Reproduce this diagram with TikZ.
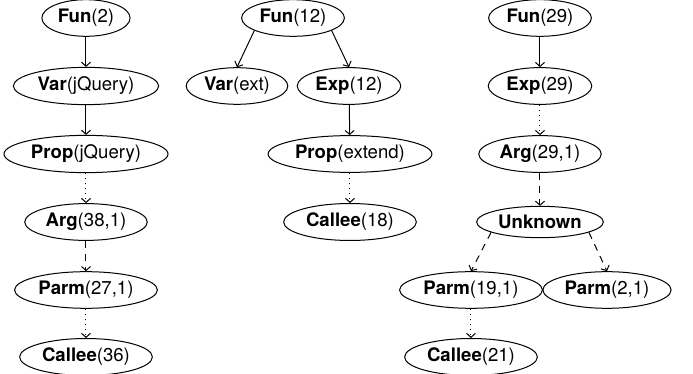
\documentclass[tikz,border=0pt]{standalone}
\usepackage{fontspec}
\setmainfont{TeX Gyre Heros}
\usetikzlibrary{shapes, arrows.meta}

\begin{document}
\begin{tikzpicture}[x=0.5pt, y=-0.5pt]

\tikzstyle{tnode} = [draw, ellipse, line width=0.5pt, inner xsep=1.5pt, inner ysep=2.1pt, font=\fontsize{9.3}{11}\selectfont];
\tikzstyle{arrow} = [line width=0.5pt, -{Straight Barb[length=2pt, width=4.5pt]}];
\tikzstyle{dotarrow} = [arrow, dotted];
\tikzstyle{dasharrow} = [arrow, dash pattern=on 3.5pt off 3pt];

\useasboundingbox (0,0) rectangle (693,374);

% first tree
\node(fun2) [tnode] at (86,18) {\textbf{Fun}(2)};
\node(varjq) [tnode] at (86,86) {\textbf{Var}(jQuery)};
\node(propjq) [tnode] at (86,154) {\textbf{Prop}(jQuery)};
\node(arg38) [tnode] at (86,222) {\textbf{Arg}(38,1)};
\node(parm27) [tnode] at (86,290) {\textbf{Parm}(27,1)};
\node(callee36) [tnode] at (86,357) {\textbf{Callee}(36)};

% second tree
\node(fun12) [tnode] at (293,18) {\textbf{Fun}(12)};
\node(varext) [tnode] at (237,86) {\textbf{Var}(ext)};
\node(exp12) [tnode] at (349,86) {\textbf{Exp}(12)};
\node(propext) [tnode] at (350,154) {\textbf{Prop}(extend)};
\node(callee18) [tnode] at (350,222) {\textbf{Callee}(18)};

% third tree
\node(fun29) [tnode] at (540,18) {\textbf{Fun}(29)};
\node(exp29) [tnode] at (540,86) {\textbf{Exp}(29)};
\node(arg29) [tnode] at (540,154) {\textbf{Arg}(29,1)};
\node(unknown) [tnode] at (540,222) {\textbf{Unknown}};
\node(parm19) [tnode] at (471,290) {\textbf{Parm}(19,1)};
\node(parm2) [tnode] at (607,290) {\textbf{Parm}(2,1)};
\node(callee21) [tnode] at (471,357) {\textbf{Callee}(21)};

\draw [arrow] (fun2) -- (varjq);
\draw [arrow] (varjq) -- (propjq);
\draw [dotarrow] (propjq) -- (arg38);
\draw [dasharrow] (arg38) -- (parm27);
\draw [dotarrow] (parm27) -- (callee36);

\draw [arrow] (fun12.198) -- (varext.north);
\draw [arrow] (fun12.342) -- (exp12.north);
\draw [arrow] (exp12) -- (propext);
\draw [dotarrow] (propext) -- (callee18);

\draw [arrow] (fun29) -- (exp29);
\draw [dotarrow] (exp29) -- (arg29);
\draw [dasharrow] (arg29) -- (unknown);
\draw [dasharrow] (unknown.192) -- (parm19.north);
\draw [dasharrow] (unknown.348) -- (parm2.north);
\draw [dotarrow] (parm19) -- (callee21);

\end{tikzpicture}
\end{document}
